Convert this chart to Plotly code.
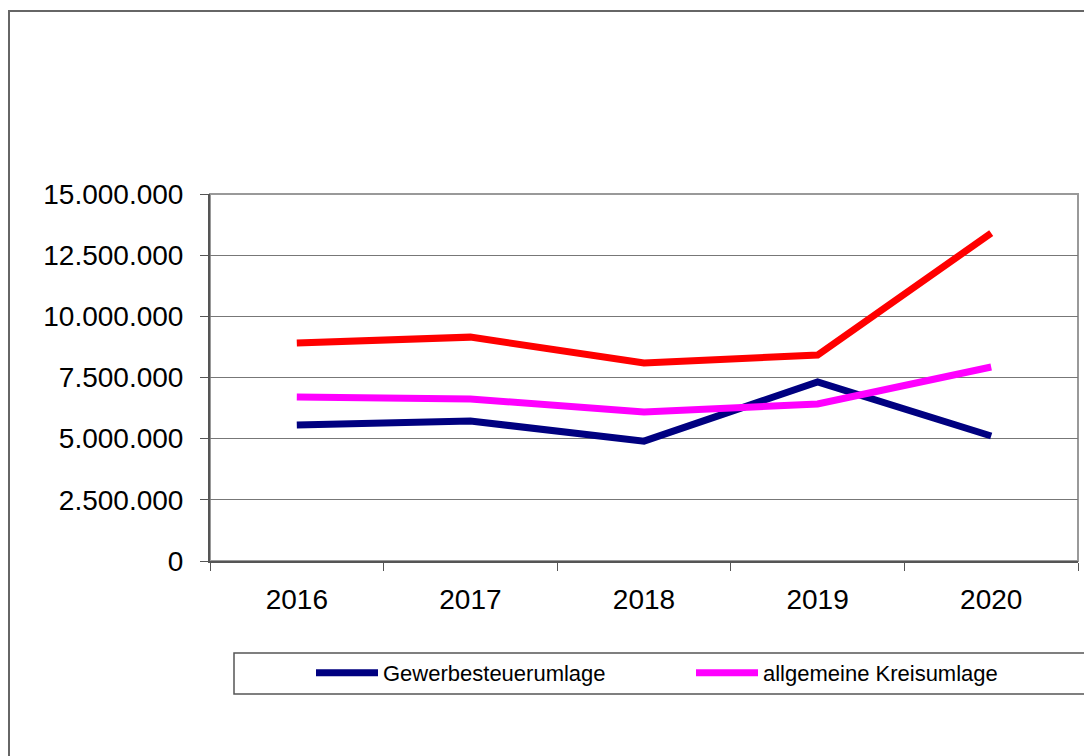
import plotly.graph_objects as go

years = ["2016", "2017", "2018", "2019", "2020"]
gewerbesteuerumlage = [5560000, 5720000, 4900000, 7320000, 5110000]
allgemeine_kreisumlage = [6700000, 6620000, 6090000, 6420000, 7930000]
umlagen_gesamt = [8910000, 9150000, 8090000, 8420000, 13400000]
y_ticks = [0, 2500000, 5000000, 7500000, 10000000, 12500000, 15000000]

# the page body adds an 8px offset; work in screen coordinates and shift
OFF = 8
W, H = 1092 - OFF, 756 - OFF
L, R, T, B = 210 - OFF, 1078 - OFF, 194 - OFF, 561 - OFF
pw, ph = R - L, B - T

def px(sx):
    return (sx - OFF - L) / pw

def py(sy):
    return (B - (sy - OFF)) / ph

fig = go.Figure()
fig.add_trace(go.Scatter(x=years, y=gewerbesteuerumlage, mode="lines",
                         name="Gewerbesteuerumlage", legend="legend",
                         line=dict(color="#000080", width=7)))
fig.add_trace(go.Scatter(x=years, y=allgemeine_kreisumlage, mode="lines",
                         name="allgemeine Kreisumlage", legend="legend2",
                         line=dict(color="#FF00FF", width=7)))
fig.add_trace(go.Scatter(x=years, y=umlagen_gesamt, mode="lines",
                         name="Umlagen gesamt", showlegend=False,
                         line=dict(color="#FF0000", width=7)))

font = "Liberation Sans, Arial, sans-serif"
ITEMW = 62
legend_common = dict(orientation="h", xanchor="left", yanchor="middle",
                     font=dict(family=font, size=22, color="black"),
                     bgcolor="rgba(0,0,0,0)", borderwidth=0, itemwidth=ITEMW,
                     itemclick=False, itemdoubleclick=False)

fig.update_layout(
    width=W, height=H,
    margin=dict(l=L, r=W - R, t=T, b=H - B, pad=0),
    paper_bgcolor="white", plot_bgcolor="white",
    separators=",.",
    font=dict(family=font, color="black"),
    showlegend=True,
    legend=dict(x=px(383 - ITEMW - 10), y=py(673), **legend_common),
    legend2=dict(x=px(763 - ITEMW - 10), y=py(673), **legend_common),
    shapes=[
        # outer chart frame
        dict(type="rect", xref="paper", yref="paper",
             x0=px(9), x1=px(1300), y0=py(1000), y1=py(11),
             line=dict(color="#666666", width=2), layer="below"),
        # legend box
        dict(type="rect", xref="paper", yref="paper",
             x0=px(234), x1=px(1300), y0=py(694), y1=py(653),
             line=dict(color="#555555", width=1.5), layer="below"),
        # plot area frame (top/right)
        dict(type="rect", xref="paper", yref="paper",
             x0=0, x1=1, y0=0, y1=1,
             line=dict(color="#999999", width=2), layer="below"),
    ],
)

fig.update_xaxes(
    type="category", categoryorder="array", categoryarray=years,
    range=[-0.5, len(years) - 0.5],
    showgrid=False, showline=True, linecolor="#555555", linewidth=2,
    ticks="outside", tickson="boundaries", ticklen=8, tickcolor="#555555", tickwidth=1,
    tickfont=dict(family=font, size=28, color="black"),
    ticklabelstandoff=12, zeroline=False, fixedrange=True,
)
fig.update_yaxes(
    range=[0, 15000000], tickvals=y_ticks, tickformat=",d",
    showgrid=True, gridcolor="#777777", gridwidth=1,
    showline=True, linecolor="#555555", linewidth=2,
    ticks="outside", ticklen=8, tickcolor="#555555", tickwidth=1,
    tickfont=dict(family=font, size=28, color="black"),
    ticklabelstandoff=11, zeroline=False, fixedrange=True,
)

fig.write_html("out.html")
